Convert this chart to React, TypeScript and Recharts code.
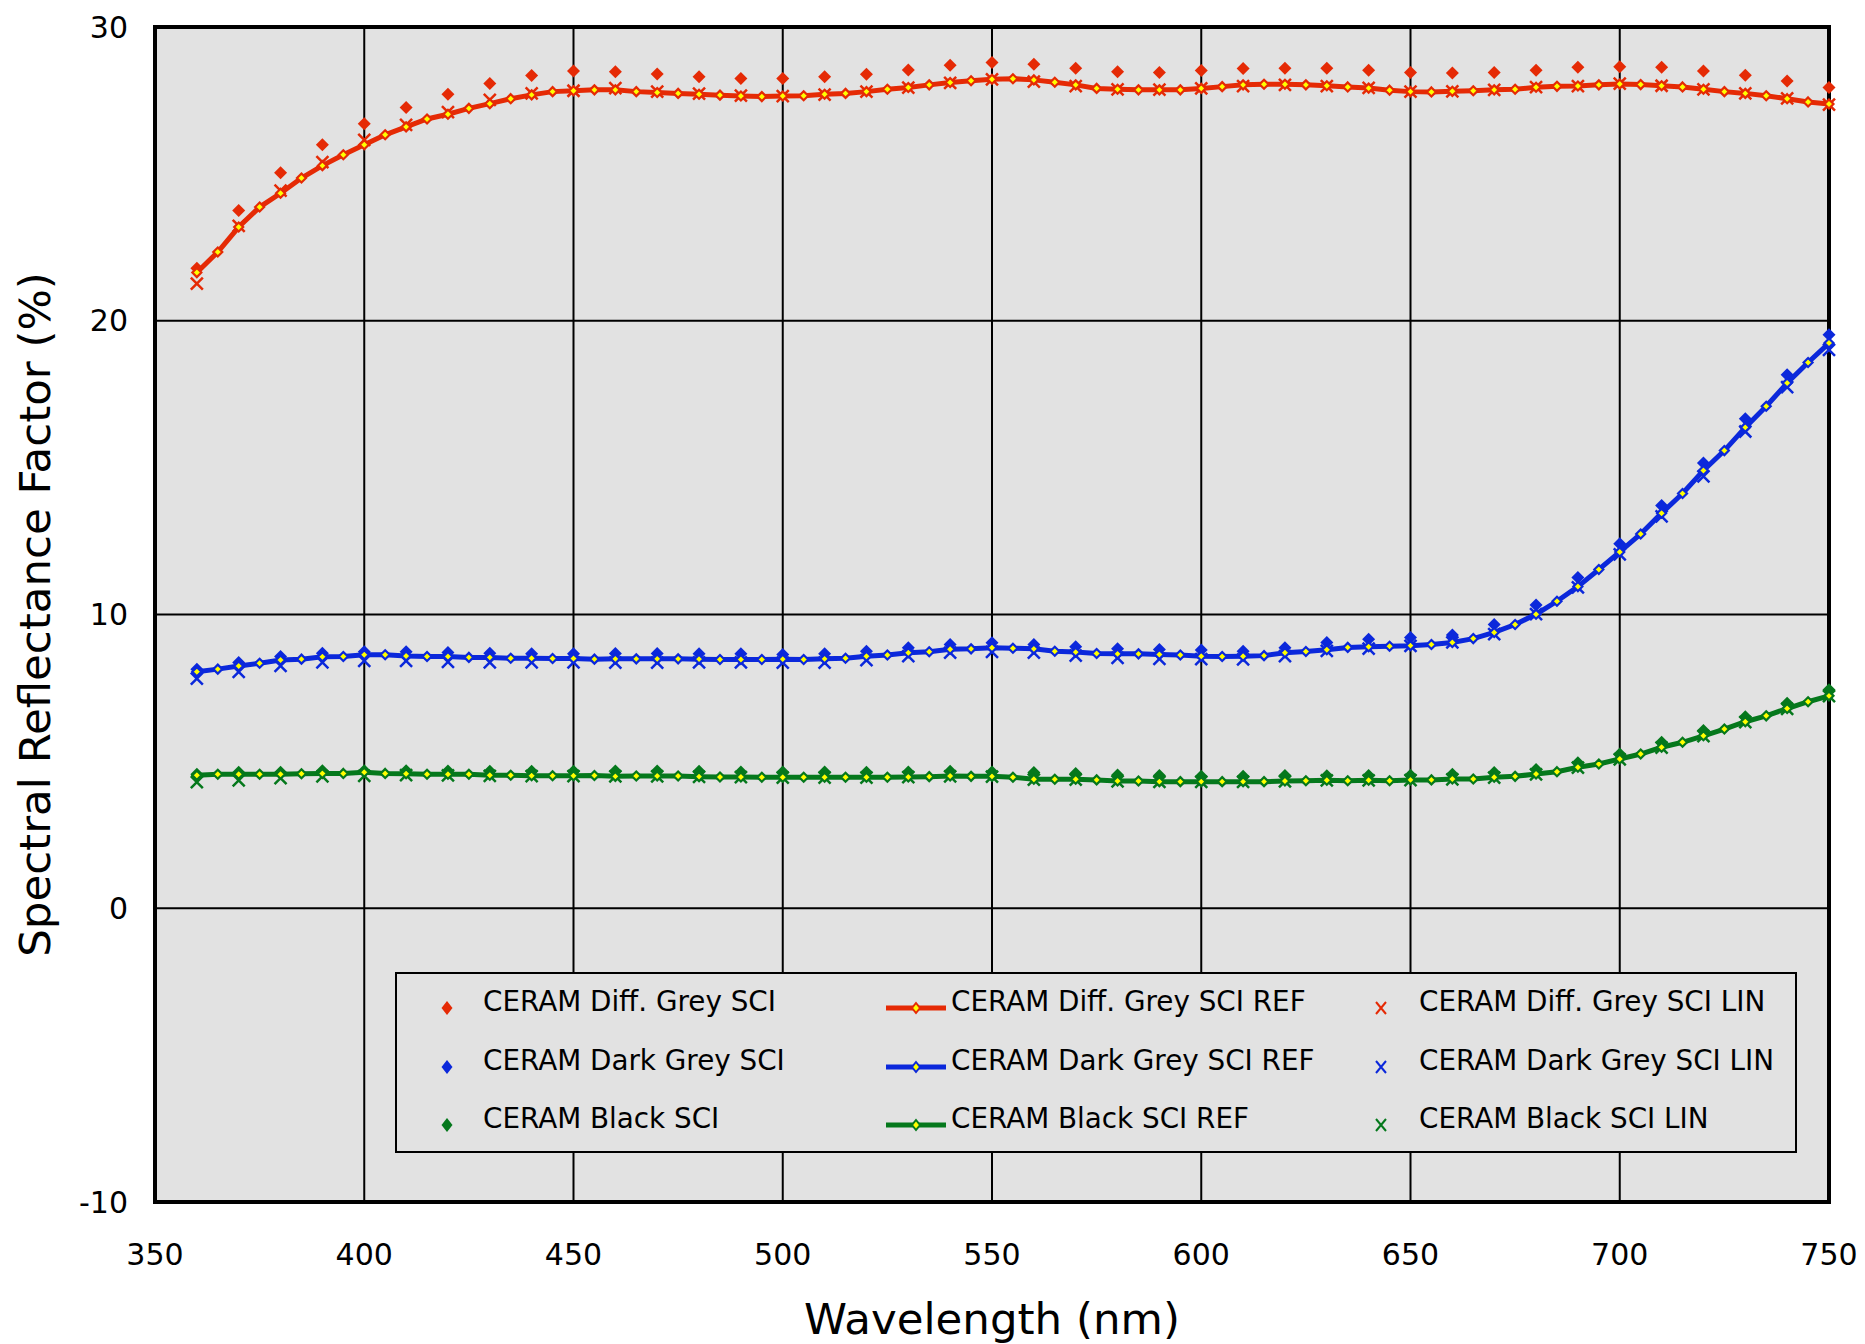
import {
  ComposedChart,
  Line,
  Scatter,
  XAxis,
  YAxis,
  CartesianGrid,
  Legend,
  Label,
  ReferenceArea,
} from "recharts";

const FONT = '"DejaVu Sans", Verdana, sans-serif';
const RED = "#E52A05";
const BLUE = "#0B28DB";
const GREEN = "#05781C";
const YELLOW = "#FFFF00";
const PLOT_BG = "#E2E2E2";

// wavelengths (nm): REF curves every 5 nm, SCI / LIN points every 10 nm
const wlRef = Array.from({ length: 79 }, (_, i) => 360 + i * 5);
const wlPts = Array.from({ length: 40 }, (_, i) => 360 + i * 10);

const xTicks = [350, 400, 450, 500, 550, 600, 650, 700, 750];
const yTicks = [-10, 0, 10, 20, 30];

// CERAM Diff. Grey
const diffGreyRef = [
  21.64, 22.34, 23.19, 23.87, 24.34, 24.86, 25.28, 25.65, 25.99, 26.33,
  26.6, 26.87, 27.03, 27.23, 27.39, 27.56, 27.69, 27.8, 27.83, 27.86,
  27.86, 27.8, 27.77, 27.74, 27.71, 27.68, 27.65, 27.63, 27.65, 27.66,
  27.71, 27.74, 27.8, 27.88, 27.94, 28.03, 28.11, 28.17, 28.22, 28.24,
  28.2, 28.12, 28.03, 27.91, 27.88, 27.86, 27.86, 27.86, 27.91, 27.97,
  28.03, 28.05, 28.05, 28.03, 28.0, 27.96, 27.92, 27.85, 27.8, 27.79,
  27.81, 27.83, 27.86, 27.88, 27.95, 27.98, 27.99, 28.03, 28.06, 28.04,
  28.0, 27.96, 27.88, 27.8, 27.74, 27.66, 27.56, 27.45, 27.38,
];
const diffGreySci = [
  21.79, 23.75, 25.04, 25.99, 26.71, 27.26, 27.71, 28.08, 28.35, 28.5,
  28.48, 28.4, 28.31, 28.25, 28.25, 28.31, 28.39, 28.54, 28.7, 28.79,
  28.73, 28.6, 28.48, 28.45, 28.52, 28.59, 28.6, 28.6, 28.53, 28.45,
  28.43, 28.45, 28.53, 28.63, 28.65, 28.63, 28.5, 28.36, 28.16, 27.94,
];
const diffGreyLin = [
  21.26, 23.23, 24.43, 25.4, 26.16, 26.67, 27.1, 27.52, 27.74, 27.83,
  27.92, 27.8, 27.73, 27.66, 27.65, 27.7, 27.8, 27.94, 28.1, 28.22,
  28.14, 27.99, 27.88, 27.87, 27.91, 27.99, 28.03, 27.99, 27.93, 27.8,
  27.81, 27.86, 27.95, 27.99, 28.07, 28.0, 27.88, 27.74, 27.57, 27.36,
];

// CERAM Dark Grey
const darkGreyRef = [
  8.05, 8.14, 8.25, 8.34, 8.45, 8.48, 8.56, 8.57, 8.63, 8.63,
  8.59, 8.57, 8.57, 8.54, 8.54, 8.51, 8.51, 8.5, 8.5, 8.48,
  8.49, 8.49, 8.49, 8.49, 8.48, 8.47, 8.47, 8.47, 8.48, 8.47,
  8.49, 8.51, 8.58, 8.62, 8.7, 8.73, 8.82, 8.83, 8.87, 8.85,
  8.83, 8.75, 8.72, 8.67, 8.66, 8.66, 8.64, 8.62, 8.58, 8.57,
  8.58, 8.6, 8.7, 8.74, 8.8, 8.88, 8.9, 8.92, 8.94, 8.98,
  9.05, 9.18, 9.39, 9.66, 10.01, 10.45, 10.95, 11.53, 12.13, 12.74,
  13.45, 14.12, 14.9, 15.58, 16.37, 17.09, 17.88, 18.58, 19.24,
];
const darkGreySci = [
  8.14, 8.37, 8.57, 8.68, 8.73, 8.73, 8.71, 8.68, 8.66, 8.66,
  8.67, 8.67, 8.66, 8.66, 8.64, 8.66, 8.75, 8.87, 8.98, 9.04,
  8.98, 8.9, 8.83, 8.81, 8.79, 8.75, 8.87, 9.05, 9.16, 9.22,
  9.3, 9.66, 10.32, 11.26, 12.41, 13.71, 15.16, 16.66, 18.16, 19.52,
];
const darkGreyLin = [
  7.82, 8.05, 8.25, 8.37, 8.42, 8.42, 8.39, 8.37, 8.37, 8.37,
  8.36, 8.36, 8.37, 8.37, 8.36, 8.36, 8.45, 8.58, 8.7, 8.73,
  8.7, 8.6, 8.52, 8.49, 8.48, 8.47, 8.58, 8.76, 8.84, 8.93,
  9.05, 9.33, 10.01, 10.92, 12.05, 13.34, 14.7, 16.23, 17.74, 19.01,
];

// CERAM Black
const blackRef = [
  4.53, 4.56, 4.56, 4.56, 4.56, 4.58, 4.59, 4.59, 4.63, 4.59,
  4.58, 4.56, 4.56, 4.56, 4.53, 4.53, 4.51, 4.51, 4.51, 4.52,
  4.49, 4.5, 4.5, 4.5, 4.48, 4.47, 4.47, 4.46, 4.46, 4.46,
  4.46, 4.46, 4.46, 4.46, 4.47, 4.48, 4.5, 4.49, 4.49, 4.46,
  4.39, 4.39, 4.39, 4.37, 4.33, 4.33, 4.31, 4.31, 4.31, 4.31,
  4.31, 4.31, 4.33, 4.34, 4.36, 4.34, 4.36, 4.34, 4.37, 4.37,
  4.4, 4.4, 4.46, 4.49, 4.57, 4.65, 4.8, 4.91, 5.08, 5.25,
  5.48, 5.65, 5.87, 6.1, 6.35, 6.55, 6.8, 7.03, 7.23,
];
const blackSci = [
  4.56, 4.63, 4.63, 4.68, 4.68, 4.68, 4.67, 4.66, 4.66, 4.66,
  4.67, 4.67, 4.66, 4.64, 4.64, 4.64, 4.63, 4.64, 4.66, 4.64,
  4.62, 4.59, 4.54, 4.52, 4.49, 4.49, 4.52, 4.51, 4.52, 4.53,
  4.56, 4.62, 4.72, 4.95, 5.25, 5.65, 6.05, 6.52, 6.98, 7.44,
];
const blackLin = [
  4.29, 4.35, 4.43, 4.49, 4.51, 4.53, 4.52, 4.51, 4.5, 4.5,
  4.49, 4.49, 4.47, 4.46, 4.45, 4.45, 4.45, 4.46, 4.49, 4.48,
  4.38, 4.38, 4.32, 4.3, 4.3, 4.3, 4.32, 4.35, 4.35, 4.36,
  4.39, 4.45, 4.56, 4.79, 5.07, 5.47, 5.86, 6.34, 6.79, 7.22,
];

const rows = (wl: number[], vals: number[]) =>
  wl.map((nm, i) => ({ nm, v: vals[i] }));

const groups = [
  { name: "CERAM Diff. Grey", color: RED, ref: diffGreyRef, sci: diffGreySci, lin: diffGreyLin },
  { name: "CERAM Dark Grey", color: BLUE, ref: darkGreyRef, sci: darkGreySci, lin: darkGreyLin },
  { name: "CERAM Black", color: GREEN, ref: blackRef, sci: blackSci, lin: blackLin },
];

const diamondPath = (cx: number, cy: number, rx: number, ry: number) =>
  `M${cx},${cy - ry}L${cx + rx},${cy}L${cx},${cy + ry}L${cx - rx},${cy}Z`;

const sciShape = (color: string) => (p: any) =>
  <path d={diamondPath(p.cx, p.cy, 6.5, 6.5)} fill={color} stroke="none" />;

const linShape = (color: string) => (p: any) => {
  const r = 6;
  return (
    <path
      d={`M${p.cx - r},${p.cy - r}L${p.cx + r},${p.cy + r}M${p.cx - r},${p.cy + r}L${p.cx + r},${p.cy - r}`}
      stroke={color}
      strokeWidth={2.5}
      fill="none"
    />
  );
};

const refDot = (color: string) => (p: any) =>
  (
    <path
      key={`d-${p.index}`}
      d={diamondPath(p.cx, p.cy, 4.5, 4.5)}
      fill={YELLOW}
      stroke={color}
      strokeWidth={2.2}
    />
  );

const rowTops = [30, 89, 147];
const colMarker = [52, 521, 986];
const colText = [88, 556, 1024];

const LegendMarker = ({ kind, color }: { kind: string; color: string }) => {
  if (kind === "sci")
    return (
      <svg width={20} height={20}>
        <path d={diamondPath(10, 10, 5.5, 7)} fill={color} />
      </svg>
    );
  if (kind === "ref")
    return (
      <svg width={64} height={20}>
        <line x1={2} y1={10} x2={62} y2={10} stroke={color} strokeWidth={5} />
        <path d={diamondPath(32, 10, 4, 5)} fill={YELLOW} stroke={color} strokeWidth={2} />
      </svg>
    );
  return (
    <svg width={20} height={20}>
      <path d="M5,4L15,16M5,16L15,4" stroke={color} strokeWidth={2} fill="none" />
    </svg>
  );
};

const renderLegend = () => (
  <div
    style={{
      position: "relative",
      width: 1402,
      height: 181,
      boxSizing: "border-box",
      border: "2px solid #000",
      background: PLOT_BG,
      fontFamily: FONT,
      fontSize: 27.8,
      color: "#000",
    }}
  >
    {groups.map((g, r) =>
      ["sci", "ref", "lin"].map((kind, c) => {
        const label =
          kind === "sci" ? `${g.name} SCI` : kind === "ref" ? `${g.name} SCI REF` : `${g.name} SCI LIN`;
        const w = kind === "ref" ? 64 : 20;
        return (
          <div key={`${r}-${c}`}>
            <div
              style={{
                position: "absolute",
                left: colMarker[c] - w / 2 - 2,
                top: rowTops[r] - 12,
                width: w,
                height: 20,
              }}
            >
              <LegendMarker kind={kind} color={g.color} />
            </div>
            <div
              style={{
                position: "absolute",
                left: colText[c] - 2,
                top: rowTops[r] - 22,
                height: 40,
                lineHeight: "40px",
                whiteSpace: "nowrap",
              }}
            >
              {label}
            </div>
          </div>
        );
      })
    )}
  </div>
);

const App = () => {
  return (
    <div style={{ position: "absolute", left: 0, top: 0, background: "#fff" }}>
      <ComposedChart
        width={1865}
        height={1344}
        margin={{ top: 27, right: 36, bottom: 0, left: 0 }}
      >
        <CartesianGrid stroke="#000" strokeWidth={2} fill={PLOT_BG} fillOpacity={1} />
        <XAxis
          dataKey="nm"
          type="number"
          domain={[350, 750]}
          ticks={xTicks}
          height={142}
          axisLine={false}
          tickLine={false}
          tickSize={0}
          tickMargin={42}
          tick={{ fill: "#000", fontSize: 30, fontFamily: FONT }}
          allowDuplicatedCategory={false}
        >
          <Label
            value="Wavelength (nm)"
            position="insideBottom"
            offset={10}
            style={{ fontSize: 43.5, fontFamily: FONT, fill: "#000" }}
          />
        </XAxis>
        <YAxis
          type="number"
          domain={[-10, 30]}
          ticks={yTicks}
          width={155}
          axisLine={false}
          tickLine={false}
          tickSize={0}
          tickMargin={27}
          tick={{ fill: "#000", fontSize: 30, fontFamily: FONT }}
        >
          <Label
            value="Spectral Reflectance Factor (%)"
            position="insideLeft"
            angle={-90}
            offset={35}
            style={{ fontSize: 43.5, fontFamily: FONT, fill: "#000", textAnchor: "middle" }}
          />
        </YAxis>
        <ReferenceArea
          x1={350}
          x2={750}
          y1={-10}
          y2={30}
          fill="none"
          stroke="#000"
          strokeWidth={4}
        />
        {groups.map((g) => [
          <Scatter
            key={`${g.name}-sci`}
            name={`${g.name} SCI`}
            data={rows(wlPts, g.sci)}
            dataKey="v"
            shape={sciShape(g.color)}
            isAnimationActive={false}
          />,
          <Line
            key={`${g.name}-ref`}
            name={`${g.name} SCI REF`}
            data={rows(wlRef, g.ref)}
            dataKey="v"
            type="linear"
            stroke={g.color}
            strokeWidth={5}
            dot={refDot(g.color)}
            activeDot={false}
            isAnimationActive={false}
          />,
          <Scatter
            key={`${g.name}-lin`}
            name={`${g.name} SCI LIN`}
            data={rows(wlPts, g.lin)}
            dataKey="v"
            shape={linShape(g.color)}
            isAnimationActive={false}
          />,
        ])}
        <Legend
          layout="vertical"
          align="center"
          verticalAlign="middle"
          content={renderLegend}
          wrapperStyle={{ left: 395, top: 972, width: 1402, height: 181 }}
        />
      </ComposedChart>
    </div>
  );
};

export default App;
